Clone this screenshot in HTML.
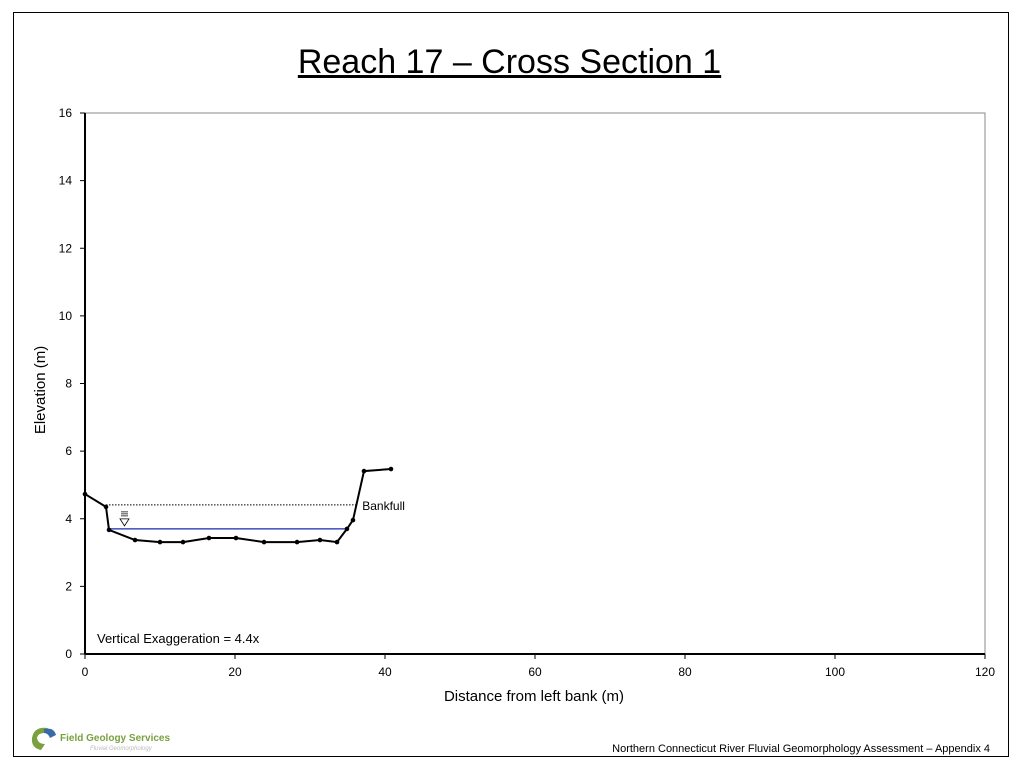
<!DOCTYPE html>
<html><head><meta charset="utf-8"><style>
body{margin:0;background:#fff;font-family:"Liberation Sans",Arial,sans-serif}
#frame{position:absolute;left:13px;top:12px;width:996px;height:745px;border:1px solid #000;box-sizing:border-box}
#title{position:absolute;left:0;top:43px;width:1019px;text-align:center;font-size:34px;text-decoration:underline}
#footer{position:absolute;right:34px;top:743px;font-size:11px}
</style></head><body>
<div id="frame"></div>
<div id="title">Reach 17 – Cross Section 1</div>
<svg width="1024" height="768" style="position:absolute;left:0;top:0">
<g id="g"></g>
<g>
<path d="M32 738 Q34 726 48 728 L44 733 Q38 733 37 738 Q38 744 45 744 L41 750 Q31 748 32 738Z" fill="#7aa040"/>
<path d="M44 729 Q54 727 56 735 L50 738 Q48 733 44 733Z" fill="#3a6aa8"/>
<text x="60" y="741" font-size="10" fill="#7aa040" font-weight="bold">Field Geology Services</text>
<text x="90" y="750" font-size="6" fill="#bbb" font-style="italic">Fluvial Geomorphology</text>
</g>
</svg>
<div id="footer">Northern Connecticut River Fluvial Geomorphology Assessment – Appendix 4</div>
<script>
const xTicks=[0,20,40,60,80,100,120];
const yTicks=[0,2,4,6,8,10,12,14,16];
const distances=[0,2.8,3.2,6.67,10,13.07,16.53,20.13,23.87,28.27,31.33,33.6,34.93,35.73,37.2,40.8];
const elevations=[4.73,4.35,3.67,3.37,3.31,3.31,3.43,3.43,3.31,3.31,3.37,3.31,3.70,3.96,5.41,5.47];
const bankfullX=[2.8,36.3];const bankfullY=4.41;
const waterX=[3.2,34.9];const waterY=3.70;
const X0=85,X1=985,Y0=654,Y1=113;
const sx=v=>X0+(X1-X0)*v/120, sy=v=>Y0-(Y0-Y1)*v/16;
const g=document.getElementById('g');const NS='http://www.w3.org/2000/svg';
function el(t,a,txt){const e=document.createElementNS(NS,t);for(const k in a)e.setAttribute(k,a[k]);if(txt!=null)e.textContent=txt;g.appendChild(e);return e;}
let e=el('rect',{x:X0,y:Y1,width:X1-X0,height:Y0-Y1,fill:'none',stroke:'#888','stroke-width':1});


e=el('line',{x1:X0,y1:Y1,x2:X0,y2:Y0,stroke:'#000','stroke-width':2});


e=el('line',{x1:X0,y1:Y0,x2:X1,y2:Y0,stroke:'#000','stroke-width':2});


xTicks.forEach(v=>{el('line',{x1:sx(v),y1:Y0,x2:sx(v),y2:Y0+5,stroke:'#000'});
e=el('text',{x:sx(v),y:Y0+22,'font-size':12,'text-anchor':'middle'},v);

});
yTicks.forEach(v=>{el('line',{x1:X0-5,y1:sy(v),x2:X0,y2:sy(v),stroke:'#000'});
e=el('text',{x:X0-13,y:sy(v)+4,'font-size':12,'text-anchor':'end'},v);

});
e=el('text',{x:534,y:701,'font-size':15,'text-anchor':'middle'},'Distance from left bank (m)');


e=el('text',{x:0,y:0,'font-size':15,'text-anchor':'middle',transform:'translate(45,390) rotate(-90)'},'Elevation (m)');


e=el('line',{x1:sx(bankfullX[0]),y1:sy(bankfullY),x2:sx(bankfullX[1]),y2:sy(bankfullY),stroke:'#000','stroke-dasharray':'1.5,1.5'});


e=el('text',{x:sx(bankfullX[1])+5,y:sy(bankfullY)+5,'font-size':12},'Bankfull');


e=el('line',{x1:sx(waterX[0]),y1:sy(waterY),x2:sx(waterX[1]),y2:sy(waterY),stroke:'#1a2aaa','stroke-width':1.3});


e=el('path',{d:`M120 ${sy(waterY)-10} l9 0 l-4.5 7z M121 ${sy(waterY)-13} h7 M121 ${sy(waterY)-15} h7 M121 ${sy(waterY)-17} h7`,fill:'none',stroke:'#000','stroke-width':0.8});


e=el('polyline',{points:distances.map((d,i)=>sx(d)+','+sy(elevations[i])).join(' '),fill:'none',stroke:'#000','stroke-width':2});


distances.forEach((d,i)=>{e=el('circle',{cx:sx(d),cy:sy(elevations[i]),r:2.3,fill:'#000'});

});
e=el('text',{x:97,y:643,'font-size':13},'Vertical Exaggeration = 4.4x');


</script>
</body></html>
